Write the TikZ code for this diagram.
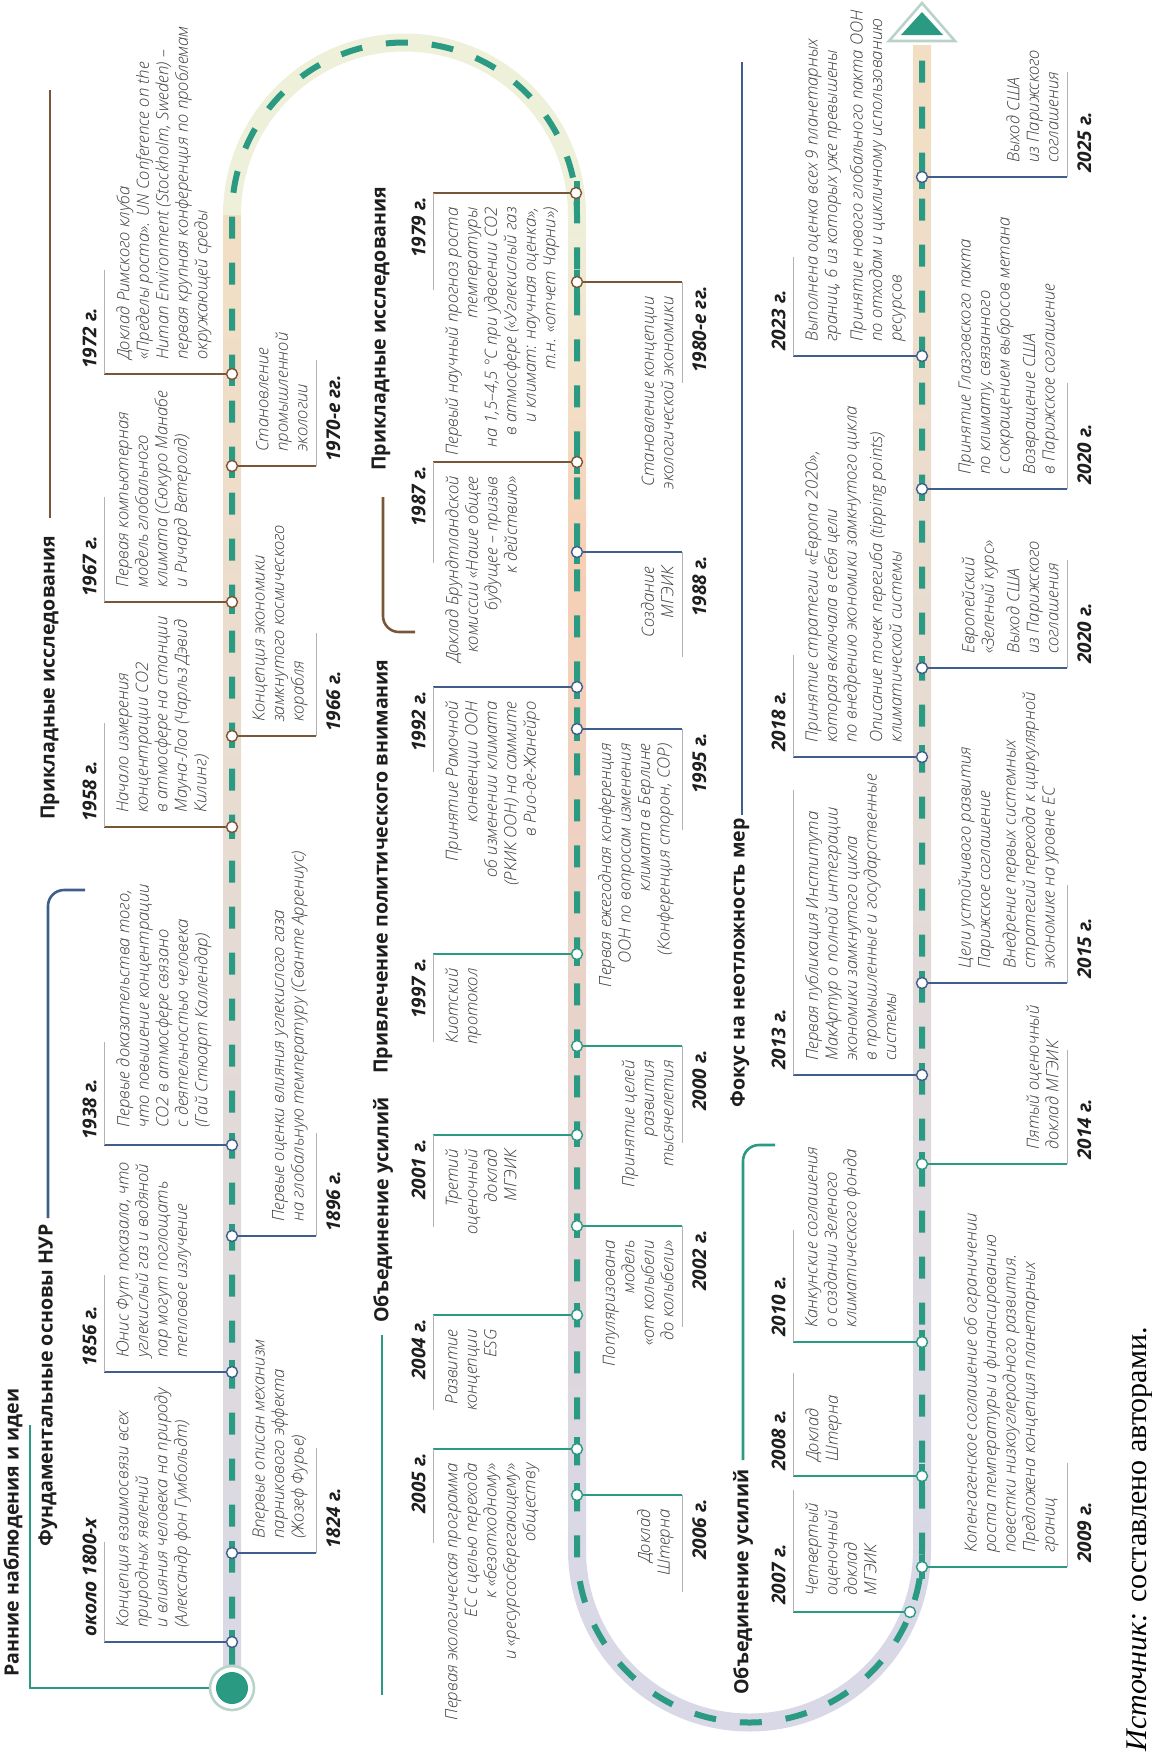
\documentclass[tikz,border=0pt]{standalone}
\usepackage{fontspec}
\setmainfont{Open Sans}
\newfontfamily\srcfont{Liberation Serif}
\IfFontExistsTF{Open Sans Light Italic}{\newfontfamily\evfam{Open Sans Light Italic}}{\newfontfamily\evfam{Open Sans Italic}}
\usetikzlibrary{positioning}

\definecolor{trk}{HTML}{2A9A82}
\definecolor{blu}{HTML}{3F5E8C}
\definecolor{brn}{HTML}{7A5638}
\definecolor{tgr}{HTML}{3C3C3C}
\definecolor{dk}{HTML}{1E1E1E}
\definecolor{ring}{HTML}{B9D3CA}
\definecolor{bndlv}{HTML}{D8D8E6}
\definecolor{bndpc}{HTML}{F6CFB4}
\definecolor{bndpk}{HTML}{EFD3CB}
\definecolor{bndbg}{HTML}{F2DEC3}
\definecolor{bndcr}{HTML}{EEF0DA}

\newcommand{\evfont}{\evfam\fontsize{8.4}{9.75}\selectfont}
\newcommand{\yrfont}{\fontsize{9.5}{11}\selectfont\bfseries\itshape}
\newcommand{\hdfont}{\fontsize{9.8}{12}\selectfont\bfseries}

\begin{document}
\begin{tikzpicture}[
    x=0.5pt, y=-0.5pt,
    dot/.style={circle, draw=#1, fill=white, line width=0.7pt, inner sep=0pt, minimum size=5.5pt},
    conn/.style={draw=#1, line width=1.2pt},
    lead/.style={draw=black!30, line width=0.4pt},
    brk/.style={draw=#1, line width=1.3pt, rounded corners=8pt},
    txtL/.style={font=\evfont, text=tgr, inner sep=0pt, rotate=90, align=left},
    txtR/.style={font=\evfont, text=tgr, inner sep=0pt, rotate=90, align=right},
    yr/.style={font=\yrfont, text=dk, inner sep=0pt, rotate=90},
    hd/.style={font=\hdfont, text=dk, inner sep=0pt, rotate=90, anchor=west}
]
\useasboundingbox (0,0) rectangle (1152,1758);

% track band
\shade[top color=bndbg, middle color=bndpc, bottom color=bndlv] (223,215) rectangle (241,1688);
\draw[line width=9pt, bndcr] (232,215) arc (180:360:172.5);
\shade[top color=bndcr, bottom color=bndpc] (568,215) rectangle (586,560);
\shade[top color=bndpc, middle color=bndpk, bottom color=bndlv] (568,560) rectangle (586,1550);
\draw[line width=9pt, bndlv] (577,1550) arc (180:0:172.5);
\shade[top color=bndbg, middle color=bndpc, bottom color=bndlv] (913,45) rectangle (931,1550);

% start and arrow
\node[circle, draw=ring, line width=1.3pt, fill=white, minimum size=22pt, inner sep=0pt] (start) at (232,1688) {};
\node[circle, fill=trk, minimum size=16pt, inner sep=0pt] (startin) at (start) {};
\draw[trk, line width=3pt, dash pattern=on 11pt off 12pt] (start.north) -- (232,215) arc (180:360:172.5)
    -- (577,1550) arc (180:0:172.5) -- (922,42);
\filldraw[fill=white, draw=ring, line width=1.3pt] (922,3) -- (955,41) -- (889,41) -- cycle;
\fill[trk] (922,12) -- (943,35) -- (901,35) -- cycle;

% short bars under the markers
\foreach \y in {1642,1553,1372,1236,1145,827,736,602,466,374}
    \fill[trk] (229,\y-12) rectangle (235,\y+12);
\foreach \y in {193,282,462,552,687,729,954,1046,1135,1226,1315,1449,1495}
    \fill[trk] (574,\y-12) rectangle (580,\y+12);
\foreach \y in {1567,1476,1342,1164,1075,983,757,668,489,356,177}
    \fill[trk] (919,\y-12) rectangle (925,\y+12);

% headings
\node[hd] (h1) at (13,1677) {Ранние наблюдения и идеи};
\node[hd] (h2) at (48,1547) {Фундаментальные основы НУР};
\node[hd] (h3) at (50,820) {Прикладные исследования};
\node[hd] (h4) at (381,471) {Прикладные исследования};
\node[hd] (h5) at (383,1074) {Привлечение политического внимания};
\node[hd] (h6) at (383,1323) {Объединение усилий};
\node[hd] (h7) at (743,1695) {Объединение усилий};
\node[hd] (h8) at (740,1108) {Фокус на неотложность мер};

\coordinate (b1a) at (30,1688);
\coordinate (b1b) at (30,1425);
\draw[brk=trk, rounded corners=0pt] (start.west) -- (b1a) -- (b1b);
\coordinate (b2a) at (48,1218);
\coordinate (b2b) at (48,890);
\coordinate (b2c) at (85,890);
\draw[brk=blu] (b2a) -- (b2b) -- (b2c);
\coordinate (b3a) at (50,518);
\coordinate (b3b) at (50,90);
\draw[brk=brn] (b3a) -- (b3b);
\coordinate (b4a) at (383,497);
\coordinate (b4b) at (383,632);
\coordinate (b4c) at (415,632);
\draw[brk=brn] (b4a) -- (b4b) -- (b4c);
\coordinate (b6a) at (382,1335);
\coordinate (b6b) at (382,1695);
\draw[brk=trk] (b6a) -- (b6b);
\coordinate (b7a) at (743,1460);
\coordinate (b7b) at (743,1145);
\coordinate (b7c) at (775,1145);
\draw[brk=trk] (b7a) -- (b7b) -- (b7c);
\coordinate (b8a) at (742,815);
\coordinate (b8b) at (742,62);
\draw[brk=blu] (b8a) -- (b8b);

% left column, above the track
\node[dot=blu] (m1800) at (232,1642) {};
\coordinate (c1800) at (104,1642);
\coordinate (e1800) at (104,1542);
\draw[conn=blu] (m1800) -- (c1800);
\draw[lead] (c1800) -- (e1800);
\node[yr, anchor=south west] (y1800) at (97,1637) {около 1800-х};
\node[txtL, anchor=north west] (t1800) at (116,1628) {Концепция взаимосвязи всех\\природных явлений\\и влияния человека на природу\\(Александр фон Гумбольдт)};

\node[dot=blu] (m1856) at (232,1372) {};
\coordinate (c1856) at (104,1372);
\coordinate (e1856) at (104,1275);
\draw[conn=blu] (m1856) -- (c1856);
\draw[lead] (c1856) -- (e1856);
\node[yr, anchor=south west] (y1856) at (97,1367) {1856 г.};
\node[txtL, anchor=north west] (t1856) at (116,1358) {Юнис Фут показала, что\\углекислый газ и водяной\\пар могут поглощать\\тепловое излучение};

\node[dot=blu] (m1938) at (232,1145) {};
\coordinate (c1938) at (104,1145);
\coordinate (e1938) at (104,1042);
\draw[conn=blu] (m1938) -- (c1938);
\draw[lead] (c1938) -- (e1938);
\node[yr, anchor=south west] (y1938) at (97,1140) {1938 г.};
\node[txtL, anchor=north west] (t1938) at (116,1128) {Первые доказательства того,\\что повышение концентрации\\CO2 в атмосфере связано\\с деятельностью человека\\(Гай Стюарт Каллендар)};

\node[dot=brn] (m1958) at (232,827) {};
\coordinate (c1958) at (104,827);
\coordinate (e1958) at (104,723);
\draw[conn=brn] (m1958) -- (c1958);
\draw[lead] (c1958) -- (e1958);
\node[yr, anchor=south west] (y1958) at (97,822) {1958 г.};
\node[txtL, anchor=north west] (t1958) at (116,813) {Начало измерения\\концентрации CO2\\в атмосфере на станции\\Мауна-Лоа (Чарльз Дэвид\\Килинг)};

\node[dot=brn] (m1967) at (232,602) {};
\coordinate (c1967) at (104,602);
\coordinate (e1967) at (104,497);
\draw[conn=brn] (m1967) -- (c1967);
\draw[lead] (c1967) -- (e1967);
\node[yr, anchor=south west] (y1967) at (97,597) {1967 г.};
\node[txtL, anchor=north west] (t1967) at (116,588) {Первая компьютерная\\модель глобального\\климата (Сюкуро Манабе\\и Ричард Ветеролд)};

\node[dot=brn] (m1972) at (232,374) {};
\coordinate (c1972) at (104,374);
\coordinate (e1972) at (104,270);
\draw[conn=brn] (m1972) -- (c1972);
\draw[lead] (c1972) -- (e1972);
\node[yr, anchor=south west] (y1972) at (97,369) {1972 г.};
\node[txtL, anchor=north west] (t1972) at (116,360) {Доклад Римского клуба\\«Пределы роста». UN Conference on the\\Human Environment (Stockholm, Sweden) –\\первая крупная конференция по проблемам\\окружающей среды};

% left column, below the track
\node[dot=blu] (m1824) at (232,1553) {};
\coordinate (c1824) at (316,1553);
\coordinate (e1824) at (316,1448);
\draw[conn=blu] (m1824) -- (c1824);
\draw[lead] (c1824) -- (e1824);
\node[yr, anchor=north west] (y1824) at (326,1549) {1824 г.};
\node[txtL, anchor=south west] (t1824) at (308,1539) {Впервые описан механизм\\парникового эффекта\\(Жозеф Фурье)};

\node[dot=blu] (m1896) at (232,1236) {};
\coordinate (c1896) at (316,1236);
\coordinate (e1896) at (316,1133);
\draw[conn=blu] (m1896) -- (c1896);
\draw[lead] (c1896) -- (e1896);
\node[yr, anchor=north west] (y1896) at (326,1232) {1896 г.};
\node[txtL, anchor=south west] (t1896) at (308,1222) {Первые оценки влияния углекислого газа\\на глобальную температуру (Сванте Аррениус)};

\node[dot=brn] (m1966) at (232,736) {};
\coordinate (c1966) at (316,736);
\coordinate (e1966) at (316,633);
\draw[conn=brn] (m1966) -- (c1966);
\draw[lead] (c1966) -- (e1966);
\node[yr, anchor=north west] (y1966) at (326,732) {1966 г.};
\node[txtL, anchor=south west] (t1966) at (308,722) {Концепция экономики\\замкнутого космического\\корабля};

\node[dot=brn] (m1970) at (232,466) {};
\coordinate (c1970) at (316,466);
\coordinate (e1970) at (316,360);
\draw[conn=brn] (m1970) -- (c1970);
\draw[lead] (c1970) -- (e1970);
\node[yr, anchor=north west] (y1970) at (326,462) {1970-е гг.};
\node[txtL, anchor=south west] (t1970) at (308,452) {Становление\\промышленной\\экологии};

% middle column, above the track
\node[dot=brn] (m1979) at (576,193) {};
\coordinate (c1979) at (433,193);
\coordinate (e1979) at (433,290);
\draw[conn=brn] (m1979) -- (c1979);
\draw[lead] (c1979) -- (e1979);
\node[yr, anchor=south east] (y1979) at (426,197) {1979 г.};
\node[txtR, anchor=north east] (t1979) at (445,207) {Первый научный прогноз роста\\температуры\\на 1,5–4,5 °С при удвоении CO2\\в атмосфере («Углекислый газ\\и климат: научная оценка»,\\т.н. «отчет Чарни»)};

\node[dot=brn] (m1987) at (577,462) {};
\coordinate (c1987) at (433,462);
\coordinate (e1987) at (433,563);
\draw[conn=brn] (m1987) -- (c1987);
\draw[lead] (c1987) -- (e1987);
\node[yr, anchor=south east] (y1987) at (426,466) {1987 г.};
\node[txtR, anchor=north east] (t1987) at (445,476) {Доклад Брундтландской\\комиссии «Наше общее\\будущее – призыв\\к действию»};

\node[dot=blu] (m1992) at (577,687) {};
\coordinate (c1992) at (433,687);
\coordinate (e1992) at (433,772);
\draw[conn=blu] (m1992) -- (c1992);
\draw[lead] (c1992) -- (e1992);
\node[yr, anchor=south east] (y1992) at (426,691) {1992 г.};
\node[txtR, anchor=north east] (t1992) at (445,701) {Принятие Рамочной\\конвенции ООН\\об изменении климата\\(РКИК ООН) на саммите\\в Рио-де-Жанейро};

\node[dot=trk] (m1997) at (577,954) {};
\coordinate (c1997) at (433,954);
\coordinate (e1997) at (433,1042);
\draw[conn=trk] (m1997) -- (c1997);
\draw[lead] (c1997) -- (e1997);
\node[yr, anchor=south east] (y1997) at (426,958) {1997 г.};
\node[txtR, anchor=north east] (t1997) at (445,968) {Киотский\\протокол};

\node[dot=trk] (m2001) at (577,1135) {};
\coordinate (c2001) at (433,1135);
\coordinate (e2001) at (433,1227);
\draw[conn=trk] (m2001) -- (c2001);
\draw[lead] (c2001) -- (e2001);
\node[yr, anchor=south east] (y2001) at (426,1139) {2001 г.};
\node[txtR, anchor=north east] (t2001) at (445,1149) {Третий\\оценочный\\доклад\\МГЭИК};

\node[dot=trk] (m2004) at (577,1315) {};
\coordinate (c2004) at (433,1315);
\coordinate (e2004) at (433,1410);
\draw[conn=trk] (m2004) -- (c2004);
\draw[lead] (c2004) -- (e2004);
\node[yr, anchor=south east] (y2004) at (426,1319) {2004 г.};
\node[txtR, anchor=north east] (t2004) at (445,1329) {Развитие\\концепции\\ESG};

\node[dot=trk] (m2005) at (577,1449) {};
\coordinate (c2005) at (433,1449);
\coordinate (e2005) at (433,1543);
\draw[conn=trk] (m2005) -- (c2005);
\draw[lead] (c2005) -- (e2005);
\node[yr, anchor=south east] (y2005) at (426,1453) {2005 г.};
\node[txtR, anchor=north east] (t2005) at (445,1463) {Первая экологическая программа\\ЕС с целью перехода\\к «безотходному»\\и «ресурсосберегающему»\\обществу};

% middle column, below the track
\node[dot=brn] (m1980) at (577,282) {};
\coordinate (c1980) at (682,282);
\coordinate (e1980) at (682,383);
\draw[conn=brn] (m1980) -- (c1980);
\draw[lead] (c1980) -- (e1980);
\node[yr, anchor=north east] (y1980) at (692,286) {1980-е гг.};
\node[txtR, anchor=south east] (t1980) at (674,296) {Становление концепции\\экологической экономики};

\node[dot=blu] (m1988) at (577,552) {};
\coordinate (c1988) at (682,552);
\coordinate (e1988) at (682,657);
\draw[conn=blu] (m1988) -- (c1988);
\draw[lead] (c1988) -- (e1988);
\node[yr, anchor=north east] (y1988) at (692,556) {1988 г.};
\node[txtR, anchor=south east] (t1988) at (674,566) {Создание\\МГЭИК};

\node[dot=blu] (m1995) at (577,729) {};
\coordinate (c1995) at (682,729);
\coordinate (e1995) at (682,830);
\draw[conn=blu] (m1995) -- (c1995);
\draw[lead] (c1995) -- (e1995);
\node[yr, anchor=north east] (y1995) at (692,733) {1995 г.};
\node[txtR, anchor=south east] (t1995) at (674,743) {Первая ежегодная конференция\\ООН по вопросам изменения\\климата в Берлине\\(Конференция сторон, СОР)};

\node[dot=trk] (m2000) at (577,1046) {};
\coordinate (c2000) at (682,1046);
\coordinate (e2000) at (682,1143);
\draw[conn=trk] (m2000) -- (c2000);
\draw[lead] (c2000) -- (e2000);
\node[yr, anchor=north east] (y2000) at (692,1050) {2000 г.};
\node[txtR, anchor=south east] (t2000) at (674,1060) {Принятие целей\\развития\\тысячелетия};

\node[dot=trk] (m2002) at (577,1226) {};
\coordinate (c2002) at (682,1226);
\coordinate (e2002) at (682,1327);
\draw[conn=trk] (m2002) -- (c2002);
\draw[lead] (c2002) -- (e2002);
\node[yr, anchor=north east] (y2002) at (692,1230) {2002 г.};
\node[txtR, anchor=south east] (t2002) at (674,1240) {Популяризована\\модель\\«от колыбели\\до колыбели»};

\node[dot=trk] (m2006) at (577,1495) {};
\coordinate (c2006) at (682,1495);
\coordinate (e2006) at (682,1592);
\draw[conn=trk] (m2006) -- (c2006);
\draw[lead] (c2006) -- (e2006);
\node[yr, anchor=north east] (y2006) at (692,1499) {2006 г.};
\node[txtR, anchor=south east] (t2006) at (674,1509) {Доклад\\Штерна};

% right column, above the track
\node[dot=trk] (m2007) at (910,1612) {};
\coordinate (c2007) at (793,1612);
\coordinate (e2007) at (793,1490);
\draw[conn=trk] (m2007) -- (c2007);
\draw[lead] (c2007) -- (e2007);
\node[yr, anchor=south west] (y2007) at (786,1605) {2007 г.};
\node[txtL, anchor=north west] (t2007) at (805,1596) {Четвертый\\оценочный\\доклад\\МГЭИК};

\node[dot=trk] (m2008) at (922,1476) {};
\coordinate (c2008) at (793,1476);
\coordinate (e2008) at (793,1373);
\draw[conn=trk] (m2008) -- (c2008);
\draw[lead] (c2008) -- (e2008);
\node[yr, anchor=south west] (y2008) at (786,1471) {2008 г.};
\node[txtL, anchor=north west] (t2008) at (805,1462) {Доклад\\Штерна};

\node[dot=trk] (m2010) at (922,1342) {};
\coordinate (c2010) at (793,1342);
\coordinate (e2010) at (793,1230);
\draw[conn=trk] (m2010) -- (c2010);
\draw[lead] (c2010) -- (e2010);
\node[yr, anchor=south west] (y2010) at (786,1337) {2010 г.};
\node[txtL, anchor=north west] (t2010) at (805,1328) {Канкунские соглашения\\о создании Зеленого\\климатического фонда};

\node[dot=blu] (m2013) at (922,1075) {};
\coordinate (c2013) at (793,1075);
\coordinate (e2013) at (793,790);
\draw[conn=blu] (m2013) -- (c2013);
\draw[lead] (c2013) -- (e2013);
\node[yr, anchor=south west] (y2013) at (786,1070) {2013 г.};
\node[txtL, anchor=north west] (t2013) at (805,1061) {Первая публикация Института\\МакАртур о полной интеграции\\экономики замкнутого цикла\\в промышленные и государственные\\системы};

\node[dot=blu] (m2018) at (922,757) {};
\coordinate (c2018) at (793,757);
\coordinate (e2018) at (793,655);
\draw[conn=blu] (m2018) -- (c2018);
\draw[lead] (c2018) -- (e2018);
\node[yr, anchor=south west] (y2018) at (786,752) {2018 г.};
\node[txtL, anchor=north west] (t2018) at (805,743) {Принятие стратегии «Европа 2020»,\\которая включала в себя цели\\по внедрению экономики замкнутого цикла\\[3pt]Описание точек перегиба (tipping points)\\климатической системы};

\node[dot=blu] (m2023) at (922,356) {};
\coordinate (c2023) at (793,356);
\coordinate (e2023) at (793,257);
\draw[conn=blu] (m2023) -- (c2023);
\draw[lead] (c2023) -- (e2023);
\node[yr, anchor=south west] (y2023) at (786,351) {2023 г.};
\node[txtL, anchor=north west] (t2023) at (805,342) {Выполнена оценка всех 9 планетарных\\границ, 6 из которых уже превышены\\[3pt]Принятие нового глобального пакта ООН\\по отходам и цикличному использованию\\ресурсов};

% right column, below the track
\node[dot=trk] (m2009) at (922,1567) {};
\coordinate (c2009) at (1067,1567);
\coordinate (e2009) at (1067,1463);
\draw[conn=trk] (m2009) -- (c2009);
\draw[lead] (c2009) -- (e2009);
\node[yr, anchor=north west] (y2009) at (1077,1563) {2009 г.};
\node[txtL, anchor=south west] (t2009) at (1059,1553) {Копенгагенское соглашение об ограничении\\роста температуры и финансированию\\повестки низкоуглеродного развития.\\Предложена концепция планетарных\\границ};

\node[dot=trk] (m2014) at (922,1164) {};
\coordinate (c2014) at (1067,1164);
\coordinate (e2014) at (1067,1050);
\draw[conn=trk] (m2014) -- (c2014);
\draw[lead] (c2014) -- (e2014);
\node[yr, anchor=north west] (y2014) at (1077,1160) {2014 г.};
\node[txtL, anchor=south west] (t2014) at (1059,1150) {Пятый оценочный\\доклад МГЭИК};

\node[dot=blu] (m2015) at (922,983) {};
\coordinate (c2015) at (1067,983);
\coordinate (e2015) at (1067,885);
\draw[conn=blu] (m2015) -- (c2015);
\draw[lead] (c2015) -- (e2015);
\node[yr, anchor=north west] (y2015) at (1077,979) {2015 г.};
\node[txtL, anchor=south west] (t2015) at (1059,969) {Цели устойчивого развития\\Парижское соглашение\\[3pt]Внедрение первых системных\\стратегий перехода к циркулярной\\экономике на уровне ЕС};

\node[dot=blu] (m2020a) at (922,668) {};
\coordinate (c2020a) at (1067,668);
\coordinate (e2020a) at (1067,560);
\draw[conn=blu] (m2020a) -- (c2020a);
\draw[lead] (c2020a) -- (e2020a);
\node[yr, anchor=north west] (y2020a) at (1077,664) {2020 г.};
\node[txtL, anchor=south west] (t2020a) at (1059,654) {Европейский\\«Зеленый курс»\\[3pt]Выход США\\из Парижского\\соглашения};

\node[dot=blu] (m2020b) at (922,489) {};
\coordinate (c2020b) at (1067,489);
\coordinate (e2020b) at (1067,383);
\draw[conn=blu] (m2020b) -- (c2020b);
\draw[lead] (c2020b) -- (e2020b);
\node[yr, anchor=north west] (y2020b) at (1077,485) {2020 г.};
\node[txtL, anchor=south west] (t2020b) at (1059,475) {Принятие Глазговского пакта\\по климату, связанного\\с сокращением выбросов метана\\[3pt]Возвращение США\\в Парижское соглашение};

\node[dot=blu] (m2025) at (922,177) {};
\coordinate (c2025) at (1067,177);
\coordinate (e2025) at (1067,72);
\draw[conn=blu] (m2025) -- (c2025);
\draw[lead] (c2025) -- (e2025);
\node[yr, anchor=north west] (y2025) at (1077,173) {2025 г.};
\node[txtL, anchor=south west] (t2025) at (1059,163) {Выход США\\из Парижского\\соглашения};

% source
\node[font={\srcfont\fontsize{15}{18}\selectfont}, rotate=90, anchor=west, inner sep=0pt] (src) at (1140,1752) {\textit{Источник:} составлено авторами.};
\end{tikzpicture}
\end{document}
